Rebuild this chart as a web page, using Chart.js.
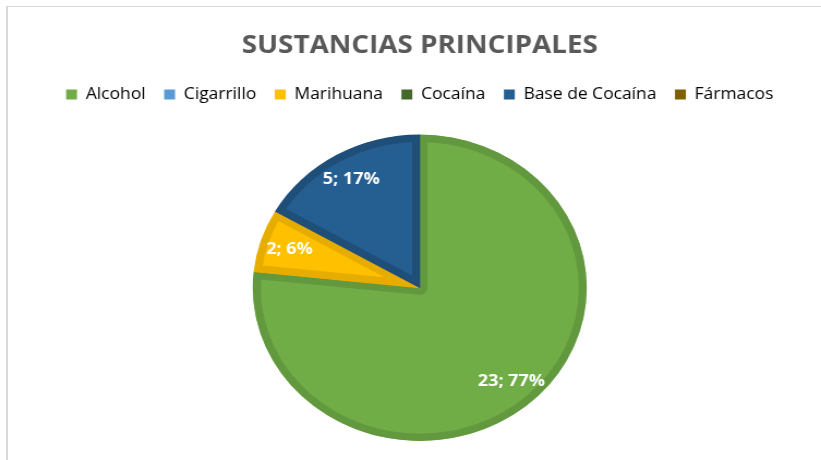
<!DOCTYPE html>
<html>
<head>
<meta charset="utf-8">
<script src="https://cdn.jsdelivr.net/npm/chart.js@4"></script>
<style>
  html, body { margin: 0; padding: 0; background: #fff; }
  body { width: 821px; height: 460px; overflow: hidden; position: relative; }
  #frame { position: absolute; left: 6px; top: 6px; right: 0; bottom: 0;
           border-top: 1px solid #d9d9d9; border-left: 2px solid #d9d9d9; }
  /* the reference pie is a little wider than tall, so the chart is stretched horizontally */
  #wrap { position: absolute; left: 0; top: 0; width: 753px; height: 460px;
          transform: scaleX(1.0903); transform-origin: 0 0; }
</style>
</head>
<body>
<div id="frame"></div>
<div id="wrap"><canvas id="pieChart" width="753" height="460"></canvas></div>
<script>
// Sustancias principales — pie

const labels    = ['Alcohol', 'Cigarrillo', 'Marihuana', 'Cocaína', 'Base de Cocaína', 'Fármacos'];
const values    = [23, 0, 2, 0, 5, 0];
const pctLabels = ['77%', '0%', '6%', '0%', '17%', '0%'];

const FILL   = ['#70AD47', '#5B9BD5', '#FFC000', '#43682B', '#255E91', '#7F6000'];
const BORDER = ['#62993E', '#4A88C2', '#E6AC00', '#375623', '#1F4E79', '#6B5100'];

Chart.defaults.font.family = "'Open Sans','Noto Sans',sans-serif";
Chart.defaults.color = '#595959';

// "value; pct" labels inside each slice
const sliceLabels = {
  id: 'sliceLabels',
  afterDatasetsDraw(chart) {
    const ctx = chart.ctx;
    const meta = chart.getDatasetMeta(0);
    ctx.save();
    ctx.font = "bold 16.5px 'Open Sans','Noto Sans',sans-serif";
    ctx.fillStyle = '#fff';
    ctx.textAlign = 'center';
    ctx.textBaseline = 'middle';
    meta.data.forEach((arc, i) => {
      if (!values[i]) return;
      const p = arc.getProps(['x', 'y', 'startAngle', 'endAngle', 'outerRadius'], true);
      const mid = (p.startAngle + p.endAngle) / 2;
      const r = p.outerRadius * 0.82;
      ctx.fillText(values[i] + '; ' + pctLabels[i], p.x + Math.cos(mid) * r, p.y + Math.sin(mid) * r);
    });
    ctx.restore();
  },
};

// extra room under the legend, before the pie
const legendGap = {
  id: 'legendGap',
  beforeLayout(chart) {
    const lg = chart.legend;
    if (!lg || lg._gapWrapped) return;
    const fit = lg.fit;
    lg.fit = function () { fit.call(this); this.height += 22; };
    lg._gapWrapped = true;
  },
};

new Chart(document.getElementById('pieChart'), {
  type: 'pie',
  data: {
    labels,
    datasets: [{
      data: values,
      backgroundColor: FILL,
      borderColor: BORDER,
      borderWidth: 7,
      borderAlign: 'inner',
      hoverOffset: 0,
    }],
  },
  options: {
    responsive: false,
    animation: false,
    events: [],
    layout: { padding: { left: 17, right: 0, top: 0, bottom: 19 } },
    plugins: {
      title: {
        display: true,
        text: 'SUSTANCIAS PRINCIPALES',
        color: '#595959',
        font: { size: 25.5, weight: 'bold' },
        padding: { top: 30, bottom: 9 },
      },
      legend: {
        position: 'top',
        labels: {
          boxWidth: 10, boxHeight: 10, padding: 17,
          font: { size: 16 },
          color: '#595959',
          generateLabels: chart => labels.map((t, i) => ({
            text: t, fillStyle: FILL[i], strokeStyle: FILL[i], lineWidth: 0, index: i, hidden: false,
          })),
        },
      },
      tooltip: { enabled: false },
    },
  },
  plugins: [sliceLabels, legendGap],
});
</script>
</body>
</html>
